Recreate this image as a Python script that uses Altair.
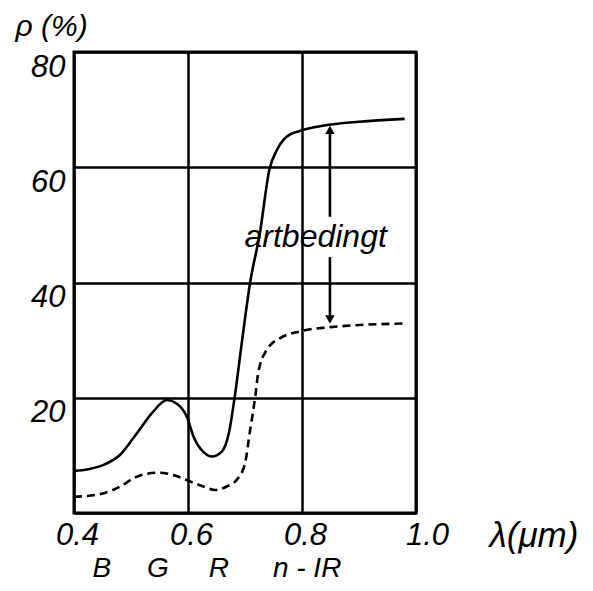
import altair as alt
import pandas as pd

# Solid curve (wavelength in µm, reflectance in %)
wl_solid = [0.40, 0.425, 0.451, 0.481, 0.510, 0.539, 0.563, 0.58, 0.598, 0.61, 0.627, 0.642,
            0.659, 0.672, 0.682, 0.695, 0.709, 0.726, 0.743, 0.756, 0.773, 0.796, 0.837, 0.90, 0.98]
rho_solid = [7.3, 7.6, 8.3, 10.1, 13.8, 17.6, 19.6, 19.0, 16.7, 13.2, 10.6, 9.8,
             10.6, 14.0, 20.2, 30.0, 40.0, 48.5, 59.7, 63.0, 65.3, 66.3, 67.2, 67.9, 68.4]

# Dashed curve
wl_dashed = [0.40, 0.451, 0.481, 0.510, 0.548, 0.574, 0.598, 0.627, 0.647, 0.668, 0.685, 0.70,
             0.709, 0.718, 0.723, 0.738, 0.761, 0.796, 0.855, 0.984]
rho_dashed = [2.8, 3.4, 4.6, 6.3, 7.0, 6.6, 5.7, 4.6, 4.0, 4.6, 5.7, 8.6,
              14.4, 20.2, 24.2, 28.3, 30.3, 31.5, 32.3, 32.9]

x_ticks = [0.4, 0.6, 0.8, 1.0]
y_ticks = [0, 20, 40, 60, 80]

band_labels = ["B", "G", "R", "n - IR"]
band_pos = [0.449, 0.547, 0.654, 0.809]

note_text = ["artbedingt"]
note_wl = [0.824]
note_rho = [46.2]

arrow_wl = [0.849, 0.849]
arrow_from = [66.0, 44.4]
arrow_to = [51.4, 34.0]
head_rho_up = [66.5]
head_rho_dn = [33.6]

FONT = "Liberation Sans"

solid_df = pd.DataFrame({"wl": wl_solid, "rho": rho_solid})
dashed_df = pd.DataFrame({"wl": wl_dashed, "rho": rho_dashed})
band_df = pd.DataFrame({"wl": band_pos, "lab": band_labels})
note_df = pd.DataFrame({"wl": note_wl, "rho": note_rho, "txt": note_text})
arrow_df = pd.DataFrame({"wl": arrow_wl, "rho": arrow_from, "rho2": arrow_to})
tip_up = pd.DataFrame({"wl": [arrow_wl[0]], "rho": head_rho_up})
tip_dn = pd.DataFrame({"wl": [arrow_wl[1]], "rho": head_rho_dn})

xscale = alt.Scale(domain=[0.4, 1.0], nice=False, zero=False)
yscale = alt.Scale(domain=[0, 80], nice=False)

x_axis = alt.Axis(
    values=x_ticks, format=".1f", grid=True, gridColor="black", gridWidth=2.5, gridOpacity=1,
    domain=False, ticks=False, tickSize=0,
    labelFont=FONT, labelFontSize=31, labelFontStyle="italic", labelColor="black",
    labelBaseline="top", labelPadding=7,
    labelOffset={"condition": {"test": "datum.value > 0.95", "value": 11}, "value": 3},
    labelFlush=False, labelOverlap=False,
    title="λ(μm)", titleX=415, titleY=33, titleAlign="left", titleBaseline="alphabetic",
    titleAngle=0, titleFont=FONT, titleFontSize=35, titleFontWeight="normal",
    titleFontStyle="italic", titleColor="black",
)
y_axis = alt.Axis(
    values=y_ticks, grid=True, gridColor="black", gridWidth=2.5, gridOpacity=1,
    domain=False, ticks=False, tickSize=0,
    labelExpr="datum.value == 0 ? '' : datum.label",
    labelFont=FONT, labelFontSize=31, labelFontStyle="italic", labelColor="black",
    labelAlign="right", labelBaseline="top", labelPadding=9, labelFlush=False, labelOverlap=False,
    title="ρ (%)", titleX=-59, titleY=-17, titleAlign="left", titleBaseline="alphabetic",
    titleAngle=0, titleFont=FONT, titleFontSize=30, titleFontWeight="normal",
    titleFontStyle="italic", titleColor="black",
)

solid = alt.Chart(solid_df).mark_line(color="black", strokeWidth=2.6, interpolate="monotone").encode(
    x=alt.X("wl:Q", scale=xscale, axis=x_axis),
    y=alt.Y("rho:Q", scale=yscale, axis=y_axis),
)
dashed = alt.Chart(dashed_df).mark_line(color="black", strokeWidth=2.6, strokeDash=[8, 5],
                                        interpolate="monotone").encode(
    x=alt.X("wl:Q"), y=alt.Y("rho:Q"),
)
arrows = alt.Chart(arrow_df).mark_rule(color="black", strokeWidth=2.6).encode(
    x=alt.X("wl:Q"), y=alt.Y("rho:Q"), y2="rho2:Q",
)
head_up = alt.Chart(tip_up).mark_point(
    shape="triangle-up", size=90, filled=True, color="black", fillOpacity=1, strokeWidth=0,
).encode(x=alt.X("wl:Q"), y=alt.Y("rho:Q"))
head_dn = alt.Chart(tip_dn).mark_point(
    shape="triangle-down", size=90, filled=True, color="black", fillOpacity=1, strokeWidth=0,
).encode(x=alt.X("wl:Q"), y=alt.Y("rho:Q"))
note = alt.Chart(note_df).mark_text(
    font=FONT, fontSize=32, fontStyle="italic", color="black", align="center", baseline="alphabetic"
).encode(x=alt.X("wl:Q"), y=alt.Y("rho:Q"), text="txt:N")
bands = alt.Chart(band_df).mark_text(
    font=FONT, fontSize=28, fontStyle="italic", color="black", align="center", baseline="alphabetic"
).encode(x=alt.X("wl:Q"), y=alt.value(525), text="lab:N")

chart = alt.layer(solid, dashed, arrows, head_up, head_dn, note, bands).properties(
    width=342, height=461,
    autosize=alt.AutoSizeParams(type="none"),
    padding={"left": 66, "top": 44, "right": 169, "bottom": 70},
    background="white",
).configure_view(stroke="black", strokeWidth=3)

chart.save("out.html", embed_options={"renderer": "svg", "actions": False})
